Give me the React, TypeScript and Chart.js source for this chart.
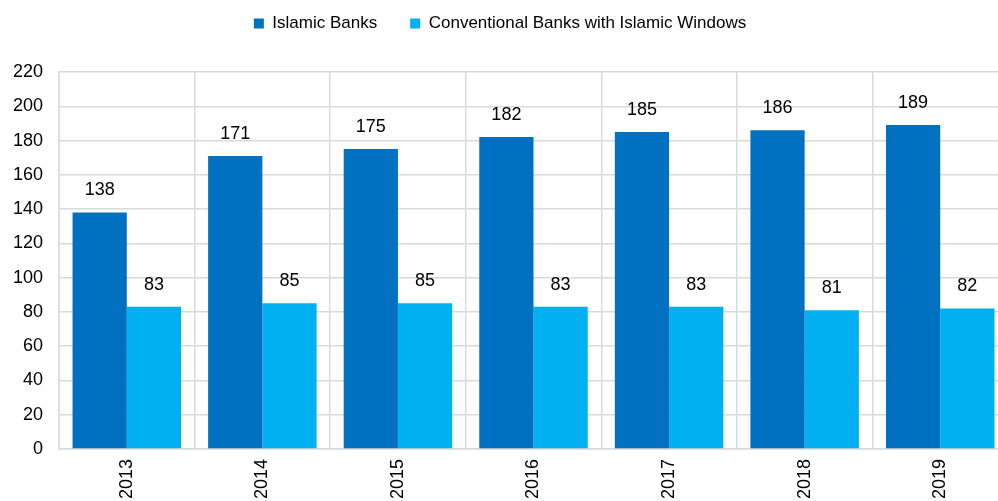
import React, { useEffect, useRef } from "react";
import { Chart, registerables } from "chart.js";

Chart.register(...registerables);

const years = ["2013", "2014", "2015", "2016", "2017", "2018", "2019"];
const islamicBanks = [138, 171, 175, 182, 185, 186, 189];
const conventionalWindows = [83, 85, 85, 83, 83, 81, 82];
const yTicks = [0, 20, 40, 60, 80, 100, 120, 140, 160, 180, 200, 220];

const FONT = "'Liberation Sans', Arial, sans-serif";

const valueLabels = {
  id: "valueLabels",
  afterDatasetsDraw(chart: any) {
    const ctx = chart.ctx;
    ctx.save();
    ctx.font = `18px ${FONT}`;
    ctx.fillStyle = "#000";
    ctx.textAlign = "center";
    ctx.textBaseline = "middle";
    chart.data.datasets.forEach((ds: any, di: number) => {
      const meta = chart.getDatasetMeta(di);
      meta.data.forEach((bar: any, i: number) => {
        ctx.fillText(String(ds.data[i]), bar.x, bar.y - 22);
      });
    });
    ctx.restore();
  },
};

const legendTune = {
  id: "legendTune",
  beforeLayout(chart: any) {
    const lg = chart.legend;
    if (lg && !lg._tuned) {
      const orig = lg.fit.bind(lg);
      lg.fit = () => {
        orig();
        lg.height = 72;
      };
      lg._tuned = true;
    }
  },
  afterLayout(chart: any) {
    const lg = chart.legend;
    if (lg) {
      lg.left -= 4;
      lg.right -= 4;
      lg.top -= 18;
      lg.bottom -= 18;
    }
  },
};

export default function App() {
  const ref = useRef<HTMLCanvasElement>(null);
  useEffect(() => {
    if (!ref.current) return;
    const chart = new Chart(ref.current, {
      type: "bar",
      data: {
        labels: years,
        datasets: [
          {
            label: "Islamic Banks",
            data: islamicBanks,
            backgroundColor: "#0070C0",
            categoryPercentage: 0.8,
            barPercentage: 1.0,
          },
          {
            label: "Conventional Banks with Islamic Windows",
            data: conventionalWindows,
            backgroundColor: "#00B0F0",
            categoryPercentage: 0.8,
            barPercentage: 1.0,
          },
        ],
      },
      options: {
        responsive: false,
        animation: false,
        layout: { padding: 0 },
        plugins: {
          legend: {
            position: "top",
            labels: {
              boxWidth: 10,
              boxHeight: 10,
              padding: 33,
              color: "#000",
              font: { family: FONT, size: 17 },
            },
          },
          tooltip: { enabled: false },
        },
        scales: {
          x: {
            grid: {
              color: "#d9d9d9",
              lineWidth: 1.5,
              drawTicks: false,
              offset: true,
            },
            border: { color: "#d9d9d9", width: 1.5 },
            ticks: {
              color: "#000",
              font: { family: FONT, size: 18 },
              minRotation: 90,
              maxRotation: 90,
              padding: 10,
            },
            afterFit(scale: any) {
              scale.height = 52;
            },
          },
          y: {
            min: 0,
            max: 220,
            afterBuildTicks(scale: any) {
              scale.ticks = yTicks.map((v) => ({ value: v }));
            },
            grid: { color: "#d9d9d9", lineWidth: 1.5, drawTicks: false },
            border: { color: "#d9d9d9", width: 1.5 },
            ticks: {
              color: "#000",
              font: { family: FONT, size: 18 },
              padding: 16,
            },
            afterFit(scale: any) {
              scale.width = 59;
            },
          },
        },
      },
      plugins: [valueLabels, legendTune],
    });
    return () => chart.destroy();
  }, []);

  return (
    <div
      style={{
        position: "fixed",
        left: 0,
        top: 0,
        width: 998,
        height: 501,
        overflow: "hidden",
        background: "#fff",
      }}
    >
      <canvas ref={ref} width={1008} height={501} style={{ display: "block" }} />
    </div>
  );
}
